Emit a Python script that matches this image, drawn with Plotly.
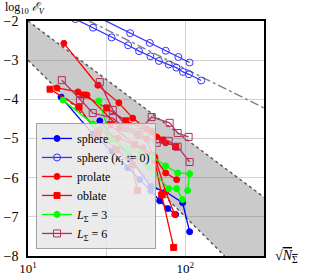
import plotly.graph_objects as go

# ---- reference band and guide line (data space: x = sqrt(N_Sigma), y = log10 E_V)
band_x = [10, 316.2, 316.2, 177.8, 10]
band_y = [-2.0, -6.5, -8.0, -8.0, -3.0]
band_upper_x = [10, 316.2]
band_upper_y = [-2.0, -6.5]
band_lower_x = [10, 177.8]
band_lower_y = [-3.0, -8.0]
ref_x = [24.5, 316.2]
ref_y = [-2.0, -4.22]

# ---- sphere (filled circles)
sphere_x = [[16.2, 25.8, 34.1, 43.1, 51.3, 60.3, 68.7, 77.3, 86.8],
            [28.6, 44.4, 60.3, 75.0, 96.1, 106.5]]
sphere_y = [[-3.94, -4.88, -5.32, -5.75, -6.05, -6.33, -6.59, -6.79, -6.94],
            [-4.55, -5.49, -6.23, -6.36, -6.64, -7.38]]

# ---- sphere with kappa_i := 0 (open circles)
sphere0_x = [[25.1, 44.6, 59.4, 75.0, 90.3, 106.4],
             [20.0, 25.9, 34.0, 43.3, 50.8, 60.0, 68.0, 78.4, 87.7, 96.6, 105.5, 126.2]]
sphere0_y = [[-1.81, -2.31, -2.56, -2.76, -2.92, -3.06],
             [-1.95, -2.17, -2.42, -2.62, -2.77, -2.90, -3.02, -3.11, -3.19, -3.30, -3.36, -3.52]]

# ---- prolate (filled circles)
prolate_x = [[16.9, 27.8, 37.8, 46.3, 56.8, 65.8, 75.0],
             [15.3, 20.8, 23.7, 38.3, 49.8, 56.8, 62.0, 75.0, 88.1],
             [28.6, 37.2, 53.6, 63.9, 75.0, 85.6]]
prolate_y = [[-2.57, -3.64, -4.09, -4.48, -4.76, -4.96, -5.11],
             [-3.71, -3.81, -3.89, -4.73, -4.91, -5.01, -5.42, -5.88, -6.05],
             [-4.78, -4.99, -5.24, -5.47, -6.36, -6.94]]

# ---- oblate (filled squares)
oblate_x = [[13.8, 21.1, 27.8, 36.7, 45.9, 49.6],
            [22.3, 31.7, 41.8, 61.1, 71.8, 86.8],
            [33.1, 47.7, 63.9, 70.7, 84.3]]
oblate_y = [[-3.74, -4.20, -4.88, -5.29, -5.67, -6.33],
            [-3.89, -4.22, -4.55, -4.83, -5.04, -5.21],
            [-4.65, -5.16, -5.55, -6.44, -7.78]]

# ---- L_Sigma = 3 (green filled circles)
l3_x = [[16.7, 25.8, 43.1, 59.4, 78.4, 88.1, 96.1],
        [28.2, 34.1, 52.1, 62.0, 75.0, 89.4, 106.5, 103.4]]
l3_y = [[-4.02, -4.63, -5.34, -5.75, -6.28, -6.28, -6.56],
        [-4.04, -5.04, -5.37, -5.47, -5.70, -5.88, -5.90, -6.33]]

# ---- L_Sigma = 6 (open squares)
l6_x = [[16.4, 21.4, 25.8, 34.6, 41.2, 49.8, 61.1, 79.5, 89.4, 104.9],
        [28.6, 34.6, 43.1, 51.3, 65.8, 78.4, 89.4, 106.5]]
l6_y = [[-3.51, -4.02, -4.35, -4.48, -4.73, -4.83, -4.45, -4.60, -4.86, -4.96],
        [-3.56, -4.27, -4.73, -4.91, -5.11, -5.06, -5.21, -5.60]]

y_ticks = [-2, -3, -4, -5, -6, -7, -8]
x_ticks = [10, 31.62, 100, 316.2]
x_ticktext = ["10<sup>1</sup>", "", "10<sup>2</sup>", ""]

fig = go.Figure()

fig.add_trace(go.Scatter(x=band_x, y=band_y, mode="lines", fill="toself",
                         fillcolor="rgba(128,128,128,0.42)", line=dict(width=0),
                         showlegend=False, hoverinfo="skip"))
for bx, by in [(band_upper_x, band_upper_y), (band_lower_x, band_lower_y)]:
    fig.add_trace(go.Scatter(x=bx, y=by, mode="lines",
                             line=dict(color="#555555", width=1.4, dash="dot"),
                             showlegend=False, hoverinfo="skip"))
fig.add_trace(go.Scatter(x=ref_x, y=ref_y, mode="lines",
                         line=dict(color="#808080", width=1.4, dash="dashdot"),
                         showlegend=False, hoverinfo="skip"))


def add_series(xs, ys, name, color, symbol, size, group):
    for i, (xx, yy) in enumerate(zip(xs, ys)):
        fig.add_trace(go.Scatter(
            x=xx, y=yy, mode="lines+markers", name=name,
            legendgroup=group, showlegend=(i == 0),
            line=dict(color=color, width=1.3),
            marker=dict(symbol=symbol, size=size, color=color,
                        line=dict(color=color, width=1)),
        ))


add_series(sphere_x, sphere_y, "sphere", "#0000ff", "circle", 6, "s")
add_series(sphere0_x, sphere0_y, "sphere (<i>κ<sub>i</sub></i> := 0)", "#3333ff", "circle-open", 7, "s0")
add_series(prolate_x, prolate_y, "prolate", "#ff0000", "circle", 6, "p")
add_series(oblate_x, oblate_y, "oblate", "#ff0000", "square", 6, "o")
add_series(l3_x, l3_y, "<i>L</i><sub>Σ</sub> = 3", "#00ff00", "circle", 6, "l3")
add_series(l6_x, l6_y, "<i>L</i><sub>Σ</sub> = 6", "#b03060", "square-open", 7, "l6")

fig.update_layout(
    width=313, height=278,
    margin=dict(l=28, r=49, t=21, b=22, autoexpand=False),
    paper_bgcolor="white", plot_bgcolor="white",
    font=dict(family="Liberation Serif", size=14, color="black"),
    xaxis=dict(type="log", range=[1, 2.5], tickvals=x_ticks, ticktext=x_ticktext,
               showgrid=True, gridcolor="#d2d2d2", gridwidth=1, automargin=False,
               showline=True, linecolor="black", linewidth=1.5, mirror=True,
               ticks="", zeroline=False, tickfont=dict(size=13), ticklabelstandoff=0),
    yaxis=dict(range=[-8, -2], tickvals=y_ticks, automargin=False,
               showgrid=True, gridcolor="#d2d2d2", gridwidth=1,
               showline=True, linecolor="black", linewidth=1.5, mirror=True,
               ticks="", zeroline=False, tickfont=dict(size=14), ticklabelstandoff=5),
    legend=dict(x=0.034, y=0.03, xanchor="left", yanchor="bottom",
                bgcolor="rgba(232,232,232,0.85)", bordercolor="#a0a0a0", borderwidth=1,
                font=dict(size=12), tracegroupgap=0),
    annotations=[
        dict(text="log<sub>10</sub> <i>ℰ<sub>V</sub></i>", xref="paper", yref="paper",
             x=-0.106, y=1.013, xanchor="left", yanchor="bottom", showarrow=False,
             font=dict(size=12)),
        dict(text="√<span style='text-decoration:overline'><i>N</i><sub>Σ</sub></span>",
             xref="paper", yref="paper", x=1.097, y=-0.004, xanchor="center",
             yanchor="middle", showarrow=False, font=dict(size=14)),
    ],
)

fig.write_html("out.html", config={"displayModeBar": False},
               post_script="document.body.style.margin='0';document.body.style.padding='0';")
